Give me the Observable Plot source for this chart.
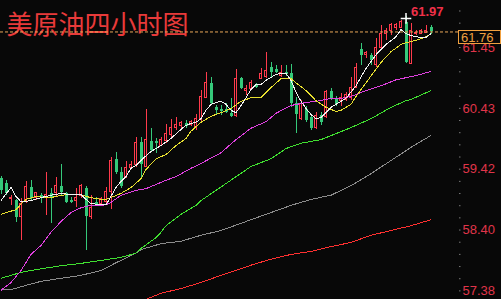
<!DOCTYPE html>
<html><head><meta charset="utf-8">
<script src="https://cdn.jsdelivr.net/npm/d3@7"></script>
<script src="https://cdn.jsdelivr.net/npm/@observablehq/plot@0.6"></script>
<style>
html,body{margin:0;padding:0;background:#080808;overflow:hidden}
#chart{width:501px;height:299px}
</style></head><body><div id="chart"></div>
<script>
const title = "美原油四小时图";
const opens = [59.26,59.18,58.91,58.89,58.61,58.86,59.11,58.93,58.98,58.94,
59.01,59.01,59.13,59.01,58.89,58.89,58.96,59.09,58.61,58.86,
58.84,58.86,59.04,59.58,59.36,59.28,59.44,59.48,59.86,59.46,
59.88,59.88,59.81,59.88,59.98,60.11,60.13,60.18,60.16,60.11,
60.23,60.61,60.85,60.45,60.41,60.41,60.35,60.30,60.93,60.73,
60.76,60.81,60.93,60.95,61.12,61.08,60.98,61.03,61.02,60.51,
60.26,60.41,60.28,60.11,60.31,60.28,60.71,60.60,60.55,60.58,
60.60,60.78,61.42,61.32,61.32,61.15,61.45,61.68,61.73,61.77,
61.78,61.87,61.18,61.67,61.68,61.70,61.79];
const closes = [59.06,59.01,58.94,58.61,58.84,59.11,58.93,59.01,58.93,58.98,
58.93,59.14,59.03,58.86,58.86,58.94,59.14,58.62,58.77,58.81,
58.91,59.03,59.56,59.36,59.13,59.44,59.48,59.86,59.49,59.90,
59.73,59.84,59.90,60.01,60.11,60.15,60.18,60.13,60.20,60.26,
60.63,60.85,60.51,60.40,60.38,60.36,60.30,60.92,60.76,60.76,
60.85,60.78,61.00,61.05,61.03,61.03,61.03,61.00,60.51,60.33,
60.51,60.23,60.10,60.31,60.20,60.70,60.60,60.50,60.61,60.65,
60.78,61.10,61.32,61.35,61.23,61.45,61.68,61.73,61.82,61.82,
61.87,61.20,61.73,61.70,61.72,61.73,61.71];
const highs = [59.29,59.23,58.98,58.91,58.93,59.21,59.23,59.03,59.01,59.36,
59.09,59.28,59.49,59.03,58.94,59.09,59.16,59.13,58.98,58.94,
58.94,59.11,59.61,59.69,59.44,59.54,59.54,59.95,59.95,60.41,
60.10,59.93,59.95,60.16,60.25,60.28,60.21,60.23,60.23,60.33,
60.73,61.03,60.95,60.48,60.48,60.51,60.60,61.08,60.95,60.81,
60.90,60.85,61.10,61.37,61.20,61.15,61.15,61.15,61.17,60.61,
60.56,60.46,60.31,60.36,60.36,60.73,60.77,60.63,60.68,60.70,
60.95,61.18,61.52,61.38,61.35,61.60,61.82,61.77,61.85,61.85,
61.90,61.97,61.85,61.73,61.75,61.82,61.82];
const lows = [58.99,58.98,58.81,58.52,58.22,58.84,58.89,58.89,58.84,58.64,
58.51,58.94,58.98,58.84,58.84,58.78,58.93,58.06,58.57,58.79,
58.81,58.82,58.74,59.33,59.09,59.26,59.43,59.44,59.28,59.44,
59.69,59.68,59.79,59.84,59.95,60.06,60.10,60.10,60.13,60.06,
60.20,60.60,60.50,60.31,60.31,60.35,60.28,60.28,60.75,60.65,
60.75,60.76,60.92,60.93,60.95,61.02,60.95,60.97,60.45,60.01,
60.23,60.20,60.06,60.08,60.15,60.26,60.56,60.46,60.46,60.55,
60.56,60.77,61.15,61.27,61.15,61.12,61.43,61.57,61.65,61.73,
61.77,61.18,61.17,61.65,61.67,61.68,61.67];

const ma5 = [[0,58.89],[2,59.11],[3,58.96],[4,58.87],[6,58.89],[8,58.94],[10,58.98],[12,59.01],[14,58.99],[16,58.99],[17,58.91],[18,58.84],[20,58.82],[21,58.82],[22,58.96],[23,59.11],[24,59.21],[25,59.29],[26,59.43],[27,59.48],[28,59.56],[29,59.64],[30,59.71],[32,59.81],[34,59.93],[36,60.08],[37,60.15],[38,60.18],[39,60.20],[40,60.26],[41,60.40],[42,60.50],[43,60.53],[44,60.55],[45,60.50],[46,60.40],[47,60.36],[48,60.48],[49,60.61],[50,60.75],[51,60.83],[52,60.83],[53,60.90],[54,60.95],[55,61.00],[56,61.02],[57,61.02],[58,60.90],[59,60.70],[60,60.55],[61,60.43],[62,60.33],[63,60.26],[64,60.28],[65,60.36],[66,60.45],[67,60.50],[69,60.60],[71,60.81],[73,61.10],[75,61.33],[77,61.50],[79,61.63],[80,61.75],[81,61.68],[82,61.65],[83,61.63],[84,61.62],[85,61.62],[86,61.68]];
const ma10 = [[0,58.66],[3,58.74],[4,58.83],[5,58.91],[7,58.96],[9,58.94],[10,58.94],[12,58.98],[14,58.99],[16,58.99],[17,58.96],[18,58.94],[20,58.91],[21,58.91],[22,58.94],[24,59.01],[26,59.11],[27,59.18],[28,59.26],[29,59.41],[31,59.59],[33,59.66],[35,59.81],[37,59.93],[38,60.05],[40,60.20],[42,60.30],[44,60.36],[46,60.43],[48,60.55],[50,60.61],[52,60.61],[54,60.78],[56,60.93],[58,60.93],[59,60.86],[61,60.73],[63,60.56],[65,60.45],[67,60.38],[68,60.40],[70,60.50],[71,60.63],[73,60.86],[76,61.20],[78,61.38],[80,61.50],[81,61.53],[83,61.57],[85,61.63],[86,61.68]];
const ma20 = [[0,57.39],[2,57.52],[4,57.72],[6,57.99],[8,58.14],[10,58.36],[12,58.54],[14,58.69],[16,58.77],[18,58.81],[20,58.81],[21,58.82],[22,58.86],[24,58.98],[27,59.06],[29,59.09],[31,59.16],[33,59.23],[35,59.29],[38,59.43],[40,59.51],[44,59.69],[47,59.91],[50,60.10],[53,60.21],[55,60.35],[58,60.48],[61,60.53],[63,60.55],[66,60.60],[68,60.60],[70,60.63],[73,60.73],[76,60.81],[79,60.91],[83,60.98],[86,61.05]];
const ma40 = [[0,57.59],[4,57.69],[8,57.75],[12,57.80],[16,57.84],[20,57.89],[24,57.94],[27,58.01],[28,58.09],[31,58.27],[32,58.36],[33,58.47],[36,58.66],[39,58.81],[40,58.89],[50,59.46],[54,59.59],[57,59.76],[60,59.85],[64,59.91],[67,60.01],[70,60.11],[74,60.26],[78,60.45],[81,60.56],[82,60.58],[86,60.73]];
const ma60 = [[0,57.40],[2,57.40],[4,57.45],[8,57.54],[12,57.59],[16,57.64],[20,57.72],[23,57.85],[27,58.01],[28,58.07],[32,58.17],[36,58.21],[40,58.31],[44,58.39],[50,58.57],[54,58.69],[58,58.81],[62,58.91],[66,58.98],[70,59.14],[74,59.34],[78,59.56],[82,59.78],[86,59.98]];
const ma120 = [[26,57.17],[29,57.24],[32,57.34],[36,57.42],[40,57.52],[44,57.64],[48,57.75],[50,57.81],[54,57.91],[58,57.99],[62,58.04],[66,58.12],[70,58.19],[74,58.31],[78,58.39],[82,58.47],[86,58.57]];

const yTicks = [57.38, 58.40, 59.42, 60.43, 61.45];
const peakLabel = "61.97";
const lastLabel = "61.76";

const BG = "#080808", UP = "#ff3a4c", DOWN = "#35c97a";
const candles = opens.map((o, i) => ({i, open: o, close: closes[i], high: highs[i], low: lows[i]}));
const ups = candles.filter(d => d.close >= d.open);
const downs = candles.filter(d => d.close < d.open);
const peak = candles.reduce((a, b) => (b.high > a.high ? b : a));
const last = candles[candles.length - 1];
const minor = d3.range(57.38 - 0.2035 * 4, 62.3, 0.2035);
const maLine = (arr, color) => Plot.line(arr, {x: d => d[0], y: d => d[1], stroke: color, strokeWidth: 1, clip: true, shapeRendering: "crispEdges"});

const chart = Plot.plot({
  width: 501, height: 299,
  marginTop: 0, marginBottom: 0, marginLeft: 0, marginRight: 43,
  style: {background: BG, fontFamily: "'Liberation Sans', Arial, sans-serif"},
  x: {domain: [-0.1, 91.5], axis: null},
  y: {domain: [57.236, 62.236], axis: null},
  marks: [
    Plot.ruleX(candles, {x: "i", y1: "low", y2: "high", stroke: d => d.close >= d.open ? UP : DOWN, strokeWidth: 1, shapeRendering: "crispEdges"}),
    Plot.ruleX(downs, {x: "i", y1: "open", y2: "close", stroke: DOWN, strokeWidth: 3, shapeRendering: "crispEdges"}),
    Plot.rect(ups, {x1: d => d.i - 0.3, x2: d => d.i + 0.3, y1: "open", y2: "close", fill: BG, stroke: UP, strokeWidth: 1, insetLeft: 0.5, insetRight: 0.5, shapeRendering: "crispEdges"}),
    maLine(ma120, "#ff3030"),
    maLine(ma60, "#8c8c8c"),
    maLine(ma40, "#40e030"),
    maLine(ma20, "#e040e0"),
    maLine(ma10, "#e8e030"),
    maLine(ma5, "#f2f2f2"),
    Plot.text([title], {frameAnchor: "top-left", dx: 6, dy: 25, textAnchor: "start", lineAnchor: "middle", fontSize: 26, fill: "#e83a3a", fontFamily: "'Noto Sans CJK SC'"}),
    Plot.ruleY([last.close], {stroke: "#e8a858", strokeDasharray: "3,2", strokeWidth: 1}),
    Plot.dot([peak], {x: "i", y: "high", symbol: "plus", r: 3.5, stroke: "#ffffff", strokeWidth: 1.5, dy: 2}),
    Plot.text([peak], {x: "i", y: "high", text: () => peakLabel, dx: 5, dy: -5, textAnchor: "start", lineAnchor: "middle", fontWeight: "bold", fontSize: 13, fill: "#f03048"}),
    Plot.axisY(minor, {anchor: "right", tickSize: 1.5, stroke: "#777", tickFormat: () => ""}),
    Plot.axisY(yTicks, {anchor: "right", tickSize: 0, tickPadding: 4, tickFormat: d => d.toFixed(2), fill: "#e0354a", fontSize: 13})
  ]
});
document.getElementById("chart").append(chart);

const yS = chart.scale("y"), xS = chart.scale("x");
const yy = Math.round(yS.apply(last.close));
const xr = xS.range[1];
const svg = d3.select(chart);
svg.append("rect").attr("x", xr + 0.5).attr("y", yy - 0.5).attr("width", 42).attr("height", 13)
  .attr("fill", BG).attr("stroke", "#f0a040").attr("stroke-width", 1);
svg.append("text").attr("x", xr + 3).attr("y", yy + 6.5).attr("dy", "0.35em")
  .attr("text-anchor", "start")
  .attr("fill", "#f0a040").attr("font-size", 13).attr("font-family", "'Liberation Sans', Arial, sans-serif").text(lastLabel);
</script></body></html>
